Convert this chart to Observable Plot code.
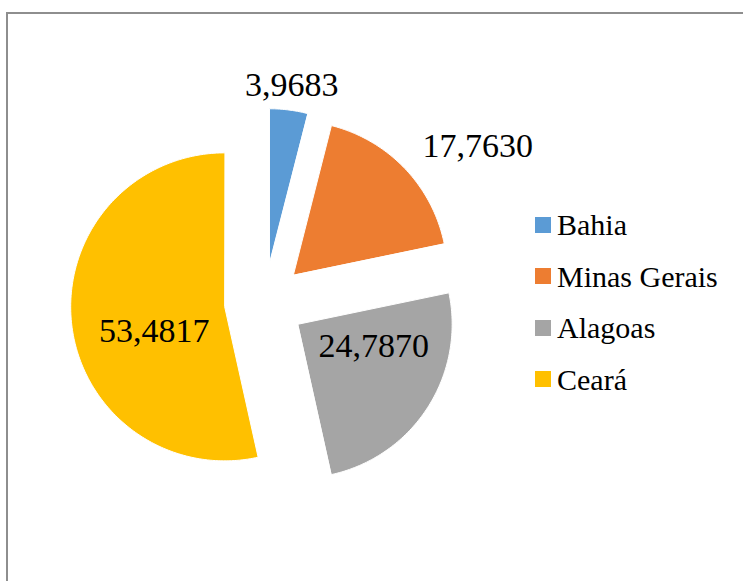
<!DOCTYPE html>
<html><head><meta charset="utf-8">
<script src="https://cdn.jsdelivr.net/npm/d3@7"></script>
<script src="https://cdn.jsdelivr.net/npm/@observablehq/plot@0.6"></script>
<style>
html,body{margin:0;padding:0;background:#fff;overflow:hidden;width:743px;height:581px;}
#wrap{position:relative;width:743px;height:581px;overflow:hidden;}
#border{position:absolute;left:6px;top:12px;width:800px;height:700px;border-left:2px solid #8e8e8e;border-top:2px solid #8e8e8e;}
#chart{position:absolute;left:0;top:0;}
#legend{position:absolute;left:535px;top:199px;font-family:'Liberation Serif';font-size:30px;color:#000;}
.row{display:flex;align-items:center;height:51.5px;line-height:51.5px;white-space:nowrap;}
.sw{width:16px;height:16px;margin-right:6px;flex:none;}
#chart svg text{font-family:'Liberation Serif' !important;}
</style>
</head><body>
<div id="wrap"><div id="border"></div><div id="chart"></div><div id="legend"></div></div>
<script>
const names = ["Bahia", "Minas Gerais", "Alagoas", "Ceará"];
const values = [3.9683, 17.7630, 24.7870, 53.4817];
const valueLabels = ["3,9683", "17,7630", "24,7870", "53,4817"];
const colors = ["#5B9BD5", "#ED7D31", "#A5A5A5", "#FFC000"];
const labelInside = [false, false, true, true];
// small pixel nudges for Excel-style "best fit" placement of the data labels
const labelNudge = [[0, 0], [0, -5], [11, -20], [6, 16]];

const explode = 0.26;
const total = d3.sum(values);
let acc = 0;
const slices = values.map((v, i) => {
  const a0 = acc / total * 2 * Math.PI;
  acc += v;
  const a1 = acc / total * 2 * Math.PI;
  const mid = (a0 + a1) / 2;
  const cx = explode * Math.sin(mid), cy = explode * Math.cos(mid);
  const pts = [{x: cx, y: cy}];
  const n = Math.max(2, Math.ceil((a1 - a0) / (Math.PI / 180)));
  for (let k = 0; k <= n; k++) {
    const a = a0 + (a1 - a0) * k / n;
    pts.push({x: cx + Math.sin(a), y: cy + Math.cos(a)});
  }
  const rr = labelInside[i] ? 0.5 : 1.16;
  const s = Math.sin(mid);
  return {
    i, name: names[i], color: colors[i], pts,
    label: valueLabels[i],
    lx: cx + rr * Math.sin(mid), ly: cy + rr * Math.cos(mid),
    anchor: labelInside[i] ? "middle" : (Math.abs(s) < 0.3 ? "middle" : (s > 0 ? "start" : "end"))
  };
});

const marks = slices.map(s => Plot.line(s.pts, {x: "x", y: "y", fill: s.color, stroke: "white", strokeWidth: 1, curve: "linear-closed"}));
for (const s of slices) {
  marks.push(Plot.text([s], {
    x: "lx", y: "ly", text: "label", textAnchor: s.anchor, lineAnchor: "middle",
    dx: labelNudge[s.i][0], dy: labelNudge[s.i][1],
    fontSize: 34, fontFamily: "Liberation Serif", fill: "black"
  }));
}

const plot = Plot.plot({
  width: 743, height: 581, margin: 0,
  x: {domain: [-1, 1], range: [110, 418], axis: null},
  y: {domain: [-1, 1], range: [456, 148], axis: null},
  style: {background: "transparent", overflow: "visible", fontFamily: "Liberation Serif"},
  marks
});
document.getElementById("chart").appendChild(plot);

const legend = document.getElementById("legend");
names.forEach((n, i) => {
  const row = document.createElement("div");
  row.className = "row";
  const sw = document.createElement("span");
  sw.className = "sw";
  sw.style.background = colors[i];
  const t = document.createElement("span");
  t.textContent = n;
  row.appendChild(sw); row.appendChild(t);
  legend.appendChild(row);
});
</script>
</body></html>
